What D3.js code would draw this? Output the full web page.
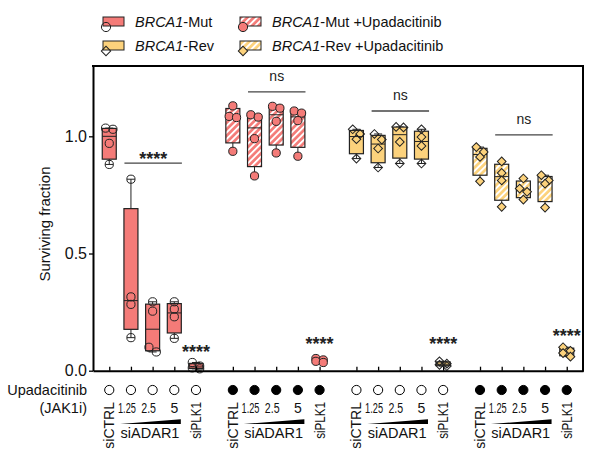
<!DOCTYPE html>
<html>
<head>
<meta charset="utf-8">
<script src="https://cdn.jsdelivr.net/npm/d3@7"></script>
<style>
  body { margin: 0; background: #fff; }
  svg { font-family: "Liberation Sans", Arial, sans-serif; }
</style>
</head>
<body>
<svg id="svg" width="596" height="467"></svg>
<script>
// conditions inside each block
var categories = ["siCTRL", "1.25", "2.5", "5", "siPLK1"];
var seriesNames = [["BRCA1", "-Mut"], ["BRCA1", "-Mut +Upadacitinib"], ["BRCA1", "-Rev"], ["BRCA1", "-Rev +Upadacitinib"]];
var upadacitinib = [false, true, false, true];

// surviving fraction, 4 replicates per condition
var mutValues = [
  [1.035, 1.03, 0.97, 0.88],
  [0.817, 0.315, 0.283, 0.141],
  [0.294, 0.254, 0.10, 0.08],
  [0.294, 0.263, 0.23, 0.138],
  [0.035, 0.02, 0.012, 0.008]
];
var mutUpaValues = [
  [1.13, 1.085, 1.08, 0.936],
  [1.092, 1.082, 0.99, 0.831],
  [1.128, 1.12, 1.064, 0.929],
  [1.108, 1.099, 1.067, 0.915],
  [0.052, 0.046, 0.04, 0.035]
];
var revValues = [
  [1.03, 1.01, 0.988, 0.905],
  [1.01, 0.986, 0.948, 0.867],
  [1.04, 1.038, 0.976, 0.884],
  [1.03, 0.997, 0.959, 0.884],
  [0.04, 0.03, 0.025, 0.02]
];
var revUpaValues = [
  [0.954, 0.933, 0.912, 0.808],
  [0.893, 0.844, 0.812, 0.699],
  [0.82, 0.777, 0.763, 0.73],
  [0.834, 0.812, 0.798, 0.696],
  [0.10, 0.085, 0.075, 0.06]
];

// significance
var sigLabels = ["****", "ns", "ns", "ns"];
var sigLevels = [0.886, 1.19, 1.108, 1.006];
var plkLabels = ["****", "****", "****", "****"];
var plkLevels = [0.056, 0.088, 0.088, 0.121];

var yTicks = [0, 0.5, 1.0];

var allValues = [mutValues, mutUpaValues, revValues, revUpaValues];

var red = "#f47b78", yellow = "#fcd27c", ink = "#222";
var styles = [
  { fill: red, hatch: false, shape: "circle", filled: false },
  { fill: red, hatch: true, shape: "circle", filled: true },
  { fill: yellow, hatch: false, shape: "diamond", filled: false },
  { fill: yellow, hatch: true, shape: "diamond", filled: true }
];

var svg = d3.select("#svg");
var x = d3.scaleLinear().domain([-0.75, 21.85]).range([93, 583]);
var y = d3.scaleLinear().domain([0, 1.3]).range([370.7, 66]);
function slot(g, i) { return g * 5.7 + i; }

var defs = svg.append("defs");
function hatch(id, color) {
  var p = defs.append("pattern").attr("id", id)
    .attr("patternUnits", "userSpaceOnUse")
    .attr("width", 4.6).attr("height", 4.6)
    .attr("patternTransform", "rotate(45)");
  p.append("rect").attr("width", 4.6).attr("height", 4.6).attr("fill", color);
  p.append("rect").attr("width", 1.9).attr("height", 4.6).attr("fill", "#fff");
}
hatch("hatchRed", red);
hatch("hatchYellow", yellow);
function boxFill(s) {
  if (!s.hatch) return s.fill;
  return s.fill === red ? "url(#hatchRed)" : "url(#hatchYellow)";
}

// prism style quartile
function quant(v, p) {
  var n = v.length, pos = p * (n + 1) - 1;
  if (pos <= 0) return v[0];
  if (pos >= n - 1) return v[n - 1];
  var lo = Math.floor(pos);
  return v[lo] + (pos - lo) * (v[lo + 1] - v[lo]);
}

function marker(sel, s, cx, cy, big) {
  var fill = s.filled ? s.fill : "none";
  if (s.shape === "circle") {
    sel.append("circle").attr("cx", cx).attr("cy", cy).attr("r", big ? 4.6 : 4.1)
      .attr("fill", fill).attr("stroke", ink).attr("stroke-width", 1);
  } else {
    sel.append("path")
      .attr("d", d3.symbol(d3.symbolSquare, big ? 44 : 38)())
      .attr("transform", "translate(" + cx + "," + cy + ") rotate(45)")
      .attr("fill", fill).attr("stroke", ink).attr("stroke-width", 1);
  }
}

// boxes
var plot = svg.append("g");
allValues.forEach(function (series, g) {
  var s = styles[g];
  series.forEach(function (vals, i) {
    var v = vals.slice().sort(d3.ascending);
    var cx = x(slot(g, i)), bw = 14;
    var q1 = quant(v, 0.25), med = quant(v, 0.5), q3 = quant(v, 0.75);
    var lo = v[0], hi = v[v.length - 1];
    var grp = plot.append("g");
    grp.append("line").attr("x1", cx).attr("x2", cx).attr("y1", y(hi)).attr("y2", y(q3))
      .attr("stroke", ink).attr("stroke-width", 1);
    grp.append("line").attr("x1", cx).attr("x2", cx).attr("y1", y(q1)).attr("y2", y(lo))
      .attr("stroke", ink).attr("stroke-width", 1);
    [lo, hi].forEach(function (w) {
      grp.append("line").attr("x1", cx - 4).attr("x2", cx + 4).attr("y1", y(w)).attr("y2", y(w))
        .attr("stroke", ink).attr("stroke-width", 1);
    });
    grp.append("rect").attr("x", cx - bw / 2).attr("width", bw)
      .attr("y", y(q3)).attr("height", Math.max(0.5, y(q1) - y(q3)))
      .attr("fill", boxFill(s)).attr("stroke", ink).attr("stroke-width", 1.2);
    grp.append("line").attr("x1", cx - bw / 2).attr("x2", cx + bw / 2).attr("y1", y(med)).attr("y2", y(med))
      .attr("stroke", ink).attr("stroke-width", 1);

    // points, neighbours that overlap are put side by side
    var pts = vals.slice().sort(d3.descending), k = 0;
    while (k < pts.length) {
      if (k + 1 < pts.length && y(pts[k + 1]) - y(pts[k]) < 7) {
        marker(grp, s, cx - 3.7, y(pts[k]));
        marker(grp, s, cx + 3.7, y(pts[k + 1]));
        k += 2;
      } else {
        marker(grp, s, cx, y(pts[k]));
        k += 1;
      }
    }
  });
});

// axes
var xAxis = svg.append("g").attr("transform", "translate(0," + y(0) + ")")
  .call(d3.axisBottom(x)
    .tickValues(d3.merge(allValues.map(function (s, g) { return categories.map(function (c, i) { return slot(g, i); }); })))
    .tickSize(-4).tickSizeOuter(0).tickFormat(""));
xAxis.select(".domain").attr("stroke", "#000").attr("stroke-width", 2);
xAxis.selectAll(".tick line").attr("stroke", "#000").attr("stroke-width", 1.3);

var yAxis = svg.append("g").attr("transform", "translate(" + x(-0.75) + ",0)")
  .call(d3.axisLeft(y).tickValues(yTicks).tickFormat(d3.format(".1f"))
    .tickSize(4).tickPadding(2).tickSizeOuter(0));
yAxis.select(".domain").attr("stroke", "#000").attr("stroke-width", 2);
yAxis.selectAll(".tick line").attr("stroke", "#000").attr("stroke-width", 1.3);
yAxis.selectAll(".tick text").attr("font-size", 16).attr("fill", "#111")
  .attr("font-family", "Liberation Sans, Arial, sans-serif");

// frame
svg.append("line").attr("x1", x(-0.75) - 1).attr("x2", x(21.85) + 1).attr("y1", y(1.3)).attr("y2", y(1.3))
  .attr("stroke", "#000").attr("stroke-width", 2);
svg.append("line").attr("x1", x(21.85)).attr("x2", x(21.85)).attr("y1", y(1.3)).attr("y2", y(0) + 1)
  .attr("stroke", "#000").attr("stroke-width", 2);

svg.append("text")
  .attr("transform", "translate(50," + 224 + ") rotate(-90)")
  .attr("text-anchor", "middle").attr("font-size", 15).attr("fill", "#111")
  .text("Surviving fraction");

// significance marks
sigLabels.forEach(function (lab, g) {
  var x1 = x(slot(g, 0.7)), x2 = x(slot(g, 3.35)), yy = y(sigLevels[g]);
  svg.append("line").attr("x1", x1).attr("x2", x2).attr("y1", yy).attr("y2", yy)
    .attr("stroke", "#444").attr("stroke-width", 1.3);
  if (lab === "ns") {
    svg.append("text").attr("x", (x1 + x2) / 2).attr("y", yy - 11)
      .attr("text-anchor", "middle").attr("font-size", 14).attr("fill", "#222").text(lab);
  } else {
    svg.append("text").attr("x", (x1 + x2) / 2).attr("y", yy + 1.5)
      .attr("text-anchor", "middle").attr("font-size", 18).attr("font-weight", "bold")
      .attr("fill", "#222").text(lab);
  }
});
plkLabels.forEach(function (lab, g) {
  svg.append("text").attr("x", x(slot(g, 4))).attr("y", y(plkLevels[g]))
    .attr("text-anchor", "middle").attr("font-size", 18).attr("font-weight", "bold")
    .attr("fill", "#222").text(lab);
});

// legend
var legendPos = [[103, 17], [240, 17], [103, 41], [240, 41]];
seriesNames.forEach(function (nm, g) {
  var p = legendPos[g], s = styles[g];
  var lg = svg.append("g");
  lg.append("rect").attr("x", p[0]).attr("y", p[1]).attr("width", 21).attr("height", 9)
    .attr("fill", boxFill(s)).attr("stroke", ink).attr("stroke-width", 1);
  marker(lg, s, p[0] + 3, p[1] + 10, true);
  var t = lg.append("text").attr("x", p[0] + 32).attr("y", p[1] + 10)
    .attr("font-size", 14.5).attr("fill", "#111");
  t.append("tspan").attr("font-style", "italic").text(nm[0]);
  t.append("tspan").text(nm[1]);
});

// treatment rows under the axis
svg.append("text").attr("x", 87).attr("y", 395).attr("text-anchor", "end")
  .attr("font-size", 14.5).attr("fill", "#111").text("Upadacitinib");
svg.append("text").attr("x", 87).attr("y", 413).attr("text-anchor", "end")
  .attr("font-size", 14.5).attr("fill", "#111").text("(JAK1i)");

// dose labels are drawn narrow, as in the figure
var numShift = { "1.25": -4, "2.5": -4, "5": 0 };
var numScale = { "1.25": 0.66, "2.5": 0.76, "5": 1 };
upadacitinib.forEach(function (on, g) {
  categories.forEach(function (c, i) {
    var cx = x(slot(g, i));
    svg.append("circle").attr("cx", cx).attr("cy", 390).attr("r", 4.6)
      .attr("fill", on ? "#000" : "none").attr("stroke", "#000").attr("stroke-width", 1);
    if (c.indexOf("si") === 0) {
      svg.append("text")
        .attr("transform", "translate(" + (cx + 5) + ",402) rotate(-90) scale(" + (c === "siPLK1" ? 0.83 : 1) + ",1)")
        .attr("text-anchor", "end").attr("font-size", 14).attr("fill", "#111")
        .text(c);
    } else {
      svg.append("text")
        .attr("transform", "translate(" + (cx + numShift[c]) + ",413) scale(" + numScale[c] + ",1)")
        .attr("text-anchor", "middle").attr("font-size", 14).attr("fill", "#111").text(c);
    }
  });
  var wx1 = x(slot(g, 0.5)), wx2 = x(slot(g, 3.3));
  svg.append("path").attr("d", "M" + wx1 + ",424L" + wx2 + ",424L" + wx2 + ",419.3Z").attr("fill", "#000");
  svg.append("text").attr("x", x(slot(g, 1.88))).attr("y", 438).attr("text-anchor", "middle")
    .attr("font-size", 14.5).attr("fill", "#111").text("siADAR1");
});
</script>
</body>
</html>
